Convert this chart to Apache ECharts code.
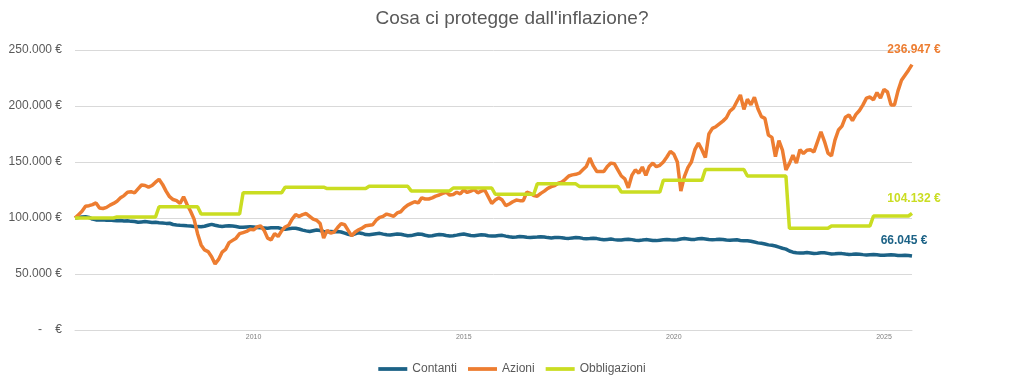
<!DOCTYPE html>
<html>
<head>
<meta charset="utf-8">
<script src="https://cdn.jsdelivr.net/npm/echarts@6/dist/echarts.min.js"></script>
<style>
html,body{margin:0;padding:0;background:#fff;}
#chart{width:1024px;height:386px;}
</style>
</head>
<body>
<div id="chart"></div>
<script>
// Monthly values, Oct 2005 .. Sep 2025 (euros)
const contanti = [
100000,100500,101000,101200,100500,99000,98300,98200,98500,98000,98200,97800,
97500,97800,97300,97500,97000,96800,96200,96500,96800,96500,96000,96200,
95800,95500,95200,95300,94200,93800,93500,93300,93000,92900,92500,92300,
92200,92600,93500,94300,93500,92800,92500,92800,93000,92800,92400,91800,
91700,92000,92300,92000,91500,91200,91000,90800,91200,91400,91300,90500,
90000,90300,90800,90900,90200,89200,88500,87900,88600,89300,88800,88000,
87800,88000,87800,87900,87500,86500,85500,84800,85800,86900,86200,85200,
85000,85500,86000,86300,85600,85000,84800,85300,85800,85500,84800,84200,
84300,85000,85700,85500,84600,84000,84200,84800,85300,85000,84400,84000,
84200,84700,85300,85700,85100,84400,84200,84600,85000,84800,84200,83900,
83900,84300,84500,83800,83200,82800,83000,83400,83300,82800,82600,82800,
83000,83300,83100,82500,82200,82500,82700,82400,82000,81800,82200,82600,
82300,81800,81500,81600,81900,81600,81000,80600,80900,81200,80700,80300,
80300,80800,81100,80700,80200,80000,80300,80700,80400,79900,79800,80200,
80600,80900,80600,80400,80600,81300,81700,81300,80800,80900,81400,81600,
81300,80800,80500,80700,81000,80800,80300,80100,80400,80500,80000,79600,
79700,79200,78500,77800,77400,76800,76000,75600,75000,74000,73000,72200,
70500,69500,69000,68700,68800,69200,68800,68400,68500,68900,68900,68400,
67900,68100,68400,68200,67800,67500,67600,67900,67700,67300,67000,67200,
67400,67200,66800,66700,66900,67100,66900,66600,66500,66700,66500,66045
];
const azioni = [
100000,103000,106000,110500,111000,112000,113500,109000,108500,109500,111500,113000,
115000,118000,120000,123000,123500,122500,126000,129500,129000,127500,129000,132000,
134500,130000,124000,119000,116500,115500,113000,119000,112000,106000,99000,86000,
76000,71500,70000,65500,59000,63000,69500,72000,78000,80000,82000,86000,
87000,88000,90000,89500,92000,93000,89000,82000,80500,86000,83500,88500,
92000,93500,99000,103000,101500,103000,104000,101500,99000,98000,95000,82000,
89000,86500,87500,91500,95000,94000,89000,84000,87500,89500,91000,93000,
93500,94000,98000,100500,101500,103500,102500,101500,104500,105600,109000,111500,
113000,114500,113500,118000,117000,117000,118000,119500,120500,122000,123000,120500,
121000,123000,121500,125000,122800,124000,125500,122500,124000,125000,119000,113000,
116000,118000,116000,111000,112500,114500,116000,115500,115500,123000,122000,120000,
119500,122000,124000,126500,128000,129000,131000,132000,134500,137500,138500,139000,
140000,143000,146000,153500,146500,141500,141500,141500,146000,149000,148500,143000,
137500,135000,127000,138000,143000,140000,145500,138000,146000,149000,145800,147000,
150000,154500,159500,157000,150000,124000,137000,145000,150000,161000,167000,161000,
154000,175000,180000,181500,184000,186500,189500,195500,198000,204000,209800,197000,
206000,201000,207800,197500,190500,189000,174000,172000,154800,169000,160700,143000,
148800,156000,149000,161000,157600,160500,161000,159000,168000,177000,168500,158000,
155400,169500,178600,182000,190000,192000,187000,192500,196000,201000,207000,208000,
205500,212000,207000,214900,212500,201000,201000,213500,223000,227500,232000,236947
];
const obbligazioni = [
100000,100000,100000,100000,100000,100000,100000,100000,100000,100000,100000,100000,
101000,101000,101000,101000,101000,101000,101000,101000,101000,101000,101000,101000,
110000,110000,110000,110000,110000,110000,110000,110000,110000,110000,110000,110000,
103600,103600,103600,103600,103600,103600,103600,103600,103600,103600,103600,103600,
122600,122600,122600,122600,122600,122600,122600,122600,122600,122600,122600,122600,
127500,127500,127500,127500,127500,127500,127500,127500,127500,127500,127500,127500,
126300,126300,126300,126300,126300,126300,126300,126300,126300,126300,126300,126300,
128300,128300,128300,128300,128300,128300,128300,128300,128300,128300,128300,128300,
124200,124200,124200,124200,124200,124200,124200,124200,124200,124200,124200,124200,
126800,126800,126800,126800,126800,126800,126800,126800,126800,126800,126800,126800,
121200,121200,121200,121200,121200,121200,121200,121200,121200,121200,121200,121200,
130500,130500,130500,130500,130500,130500,130500,130500,130500,130500,130500,130500,
128200,128200,128200,128200,128200,128200,128200,128200,128200,128200,128200,128200,
123200,123200,123200,123200,123200,123200,123200,123200,123200,123200,123200,123200,
133600,133600,133600,133600,133600,133600,133600,133600,133600,133600,133600,133600,
143300,143300,143300,143300,143300,143300,143300,143300,143300,143300,143300,143300,
137500,137500,137500,137500,137500,137500,137500,137500,137500,137500,137500,137500,
90800,90800,90800,90800,90800,90800,90800,90800,90800,90800,90800,90800,
92900,92900,92900,92900,92900,92900,92900,92900,92900,92900,92900,92900,
101800,101800,101800,101800,101800,101800,101800,101800,101800,101800,101800,104132
];
const seriesNames = ['Contanti', 'Azioni', 'Obbligazioni'];
const xTickLabels = ['2010', '2015', '2020', '2025'];
const yTickValues = [0, 50000, 100000, 150000, 200000, 250000];
const startYear = 2005, startMonth = 10;

// month categories
const months = [];
for (let i = 0; i < contanti.length; i++) {
  const m0 = startMonth - 1 + i;
  const y = startYear + Math.floor(m0 / 12);
  const m = (m0 % 12) + 1;
  months.push(y + '-' + (m < 10 ? '0' + m : m));
}

function fmtEuro(v) {
  if (v === 0) return '-    €';
  return String(Math.round(v)).replace(/\B(?=(\d{3})+(?!\d))/g, '.') + ' €';
}

const FONT = 'Liberation Sans, Arial, sans-serif';
const colors = ['#1C6286', '#ED7D31', '#CADD22'];
const labelOffsets = [[-8, -9], [2, -9], [2, -9]];
const allData = [contanti, azioni, obbligazioni];

const series = allData.map((arr, k) => ({
  name: seriesNames[k],
  type: 'line',
  symbol: 'none',
  smooth: false,
  z: 2 + k,
  lineStyle: { width: 3.5, color: colors[k] },
  itemStyle: { color: colors[k] },
  endLabel: {
    show: true,
    distance: 0,
    align: 'center',
    verticalAlign: 'bottom',
    offset: labelOffsets[k],
    formatter: p => fmtEuro(arr[arr.length - 1]),
    color: colors[k], fontWeight: 'bold', fontSize: 12, fontFamily: FONT
  },
  data: arr
}));

const chart = echarts.init(document.getElementById('chart'), null, { renderer: 'canvas' });
chart.setOption({
  animation: false,
  backgroundColor: '#ffffff',
  title: {
    text: "Cosa ci protegge dall'inflazione?",
    left: 'center', top: 9, padding: 0,
    textStyle: { fontSize: 19, fontWeight: 'normal', color: '#595959', fontFamily: FONT }
  },
  legend: {
    data: seriesNames,
    left: 'center', top: 358,
    itemWidth: 29, itemHeight: 14, itemGap: 11,
    icon: 'path://M0,0 L10,0 L10,1.3 L0,1.3 Z',
    textStyle: { fontSize: 12, color: '#595959', fontFamily: FONT }
  },
  grid: { left: 75, right: 112, top: 50, bottom: 56, containLabel: false },
  xAxis: {
    type: 'category',
    data: months,
    boundaryGap: false,
    axisLine: { show: true, lineStyle: { color: '#D9D9D9', width: 1 } },
    axisTick: { show: false },
    splitLine: { show: false },
    axisLabel: {
      interval: (idx, val) => val.endsWith('-01') && xTickLabels.includes(val.slice(0, 4)),
      formatter: val => val.slice(0, 4),
      fontSize: 7, color: '#7F7F7F', margin: 4, fontFamily: FONT
    }
  },
  yAxis: {
    type: 'value',
    min: yTickValues[0], max: yTickValues[yTickValues.length - 1], interval: 50000,
    axisLine: { show: false },
    axisTick: { show: false },
    splitLine: { lineStyle: { color: '#D9D9D9', width: 1 } },
    axisLabel: {
      formatter: v => fmtEuro(v),
      fontSize: 12, color: '#595959', margin: 13, fontFamily: FONT
    }
  },
  series: series
});
</script>
</body>
</html>
